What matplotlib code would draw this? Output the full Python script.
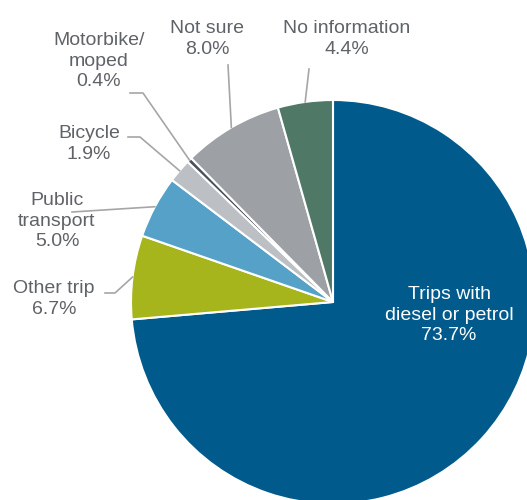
import numpy as np
import matplotlib
matplotlib.use("Agg")
import matplotlib.pyplot as plt

plt.rcParams['font.family'] = ['Liberation Sans', 'DejaVu Sans']

# data (clockwise from 12 o'clock)
categories = ['Trips with\ndiesel or petrol', 'Other trip', 'Public\ntransport', 'Bicycle',
              'Motorbike/\nmoped', 'Not sure', 'No information']
shares = [73.7, 6.7, 5.0, 1.9, 0.4, 8.0, 4.4]
colors = ['#005a8b', '#a6b51b', '#55a1c8', '#bcc0c4', '#4a5259', '#9da1a5', '#4f7966']

W, H = 527, 500
cx, cy, R = 333, 302, 202   # pie centre / radius in pixels (from top)

fig = plt.figure(figsize=(W / 100, H / 100), dpi=100)
ax = fig.add_axes([(cx - R) / W, (H - cy - R) / H, 2 * R / W, 2 * R / H])

wedges, _ = ax.pie(shares, colors=colors, startangle=90, counterclock=False, radius=1,
                   wedgeprops=dict(edgecolor='white', linewidth=1.5))
ax.set_xlim(-1, 1)
ax.set_ylim(-1, 1)
ax.axis('off')


def px(x, y):
    # pixel position (top-left origin) -> data coords
    return (x - cx) / R, (cy - y) / R


txt_col = '#5f6368'
line_col = '#a6a6a6'
fs = 14

# label layout: text centre, leader points (pixels) before reaching the wedge
layout = {
    1: ((54, 299), [(105, 293), (115, 293)]),
    2: ((57, 221), [(72, 212)]),
    3: ((89, 144), [(128, 137), (140, 137)]),
    4: ((99, 61), [(130, 93), (143, 93)]),
    5: ((207, 39), [(228, 65)]),
    6: ((347, 39), [(309, 69)]),
}

for i, w in enumerate(wedges):
    label = '%s\n%.1f%%' % (categories[i], shares[i])
    if i == 0:
        tx, ty = px(449, 315)
        ax.text(tx, ty, label, color='white', fontsize=fs, ha='center', va='center',
                linespacing=1.25)
        continue
    (lx, ly), pts = layout[i]
    tx, ty = px(lx, ly)
    ax.text(tx, ty, label, color=txt_col, fontsize=fs, ha='center', va='center',
            linespacing=1.25, clip_on=False)
    mid = np.deg2rad((w.theta1 + w.theta2) / 2)
    xs = [px(*p)[0] for p in pts] + [np.cos(mid)]
    ys = [px(*p)[1] for p in pts] + [np.sin(mid)]
    ax.plot(xs, ys, color=line_col, linewidth=1.2, clip_on=False)

fig.savefig('out.png', dpi=100)
